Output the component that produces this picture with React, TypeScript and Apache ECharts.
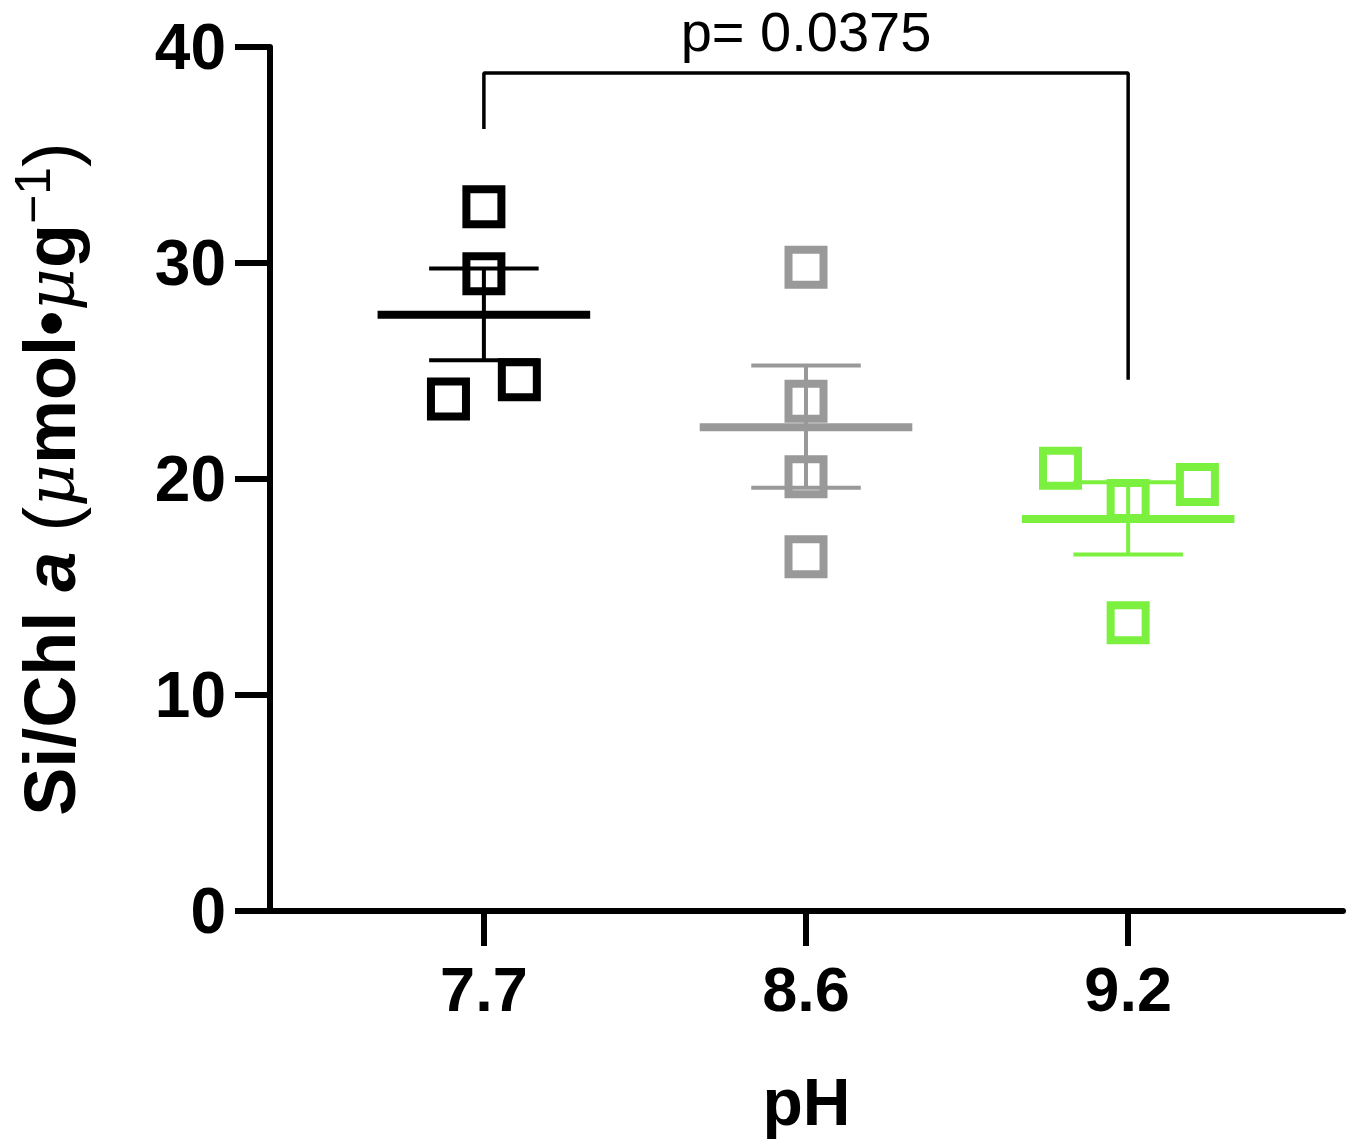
import React, { useEffect, useRef } from "react";
import * as echarts from "echarts";

const categories = ["7.7", "8.6", "9.2"];
const groupColors = ["#000000", "#999999", "#7CF03E"];
// individual replicate values and horizontal jitter (in category units)
const values77 = [32.6, 29.5, 24.6, 23.7];
const jitter77 = [0, 0, 0.11, -0.11];
const values86 = [29.8, 23.6, 20.1, 16.4];
const jitter86 = [0, 0, 0, 0];
const values92 = [20.5, 19.0, 19.75, 13.35];
const jitter92 = [-0.21, 0, 0.215, 0];
// mean and SEM bounds
const means = [27.6, 22.4, 18.15];
const semLow = [25.5, 19.6, 16.5];
const semHigh = [29.75, 25.25, 19.85];
const yTicks = [0, 10, 20, 30, 40];
// significance bracket
const bracketX = [0, 2];
const bracketTop = 38.8;
const bracketFeet = [36.2, 24.6];
const pText = "p= 0.0375";

const FONT = "'Liberation Sans', Arial, Helvetica, sans-serif";

export default function App() {
  const ref = useRef<HTMLDivElement>(null);
  useEffect(() => {
    document.body.style.margin = "0";
    const chart = echarts.init(ref.current!, null, { renderer: "svg" });
    const groups = [
      { v: values77, j: jitter77 },
      { v: values86, j: jitter86 },
      { v: values92, j: jitter92 },
    ];
    const scatterSeries = groups.map((g, gi) => ({
      type: "scatter",
      z: 3,
      symbol: "rect",
      symbolSize: 35,
      data: g.v.map((v, k) => [gi + g.j[k], v]),
      itemStyle: {
        color: "rgba(0,0,0,0)",
        borderColor: groupColors[gi],
        borderWidth: 8,
        opacity: 1,
      },
    }));
    const errSeries = categories.map((_, gi) => ({
      type: "custom",
      z: 2,
      data: [[gi, means[gi], semLow[gi], semHigh[gi]]],
      renderItem: (params: any, api: any) => {
        const x = api.value(0);
        const m = api.value(1);
        const lo = api.value(2);
        const hi = api.value(3);
        const c = groupColors[gi];
        const seg = (x1: number, y1: number, x2: number, y2: number, w: number) => {
          const a = api.coord([x1, y1]);
          const b = api.coord([x2, y2]);
          return {
            type: "line",
            shape: { x1: a[0], y1: a[1], x2: b[0], y2: b[1] },
            style: { stroke: c, lineWidth: w },
          };
        };
        return {
          type: "group",
          children: [
            seg(x - 0.33, m, x + 0.33, m, 8),
            seg(x, lo, x, hi, 4),
            seg(x - 0.17, hi, x + 0.17, hi, 4),
            seg(x - 0.17, lo, x + 0.17, lo, 4),
          ],
        };
      },
    }));
    const bracketSeries = {
      type: "line",
      symbol: "none",
      z: 1,
      lineStyle: { color: "#000", width: 3.5 },
      data: [
        [bracketX[0], bracketFeet[0]],
        [bracketX[0], bracketTop],
        [bracketX[1], bracketTop],
        [bracketX[1], bracketFeet[1]],
      ],
    };
    chart.setOption({
      animation: false,
      grid: { left: 262, right: 7, top: 47, bottom: 237, containLabel: false },
      xAxis: {
        type: "value",
        min: -0.664,
        max: 2.667,
        splitLine: { show: false },
        axisLine: { show: true, onZero: false, lineStyle: { color: "#000", width: 6 } },
        axisTick: { show: true, length: 35, lineStyle: { color: "#000", width: 6 }, customValues: [0, 1, 2] },
        axisLabel: {
          customValues: [0, 1, 2],
          formatter: (v: number) => categories[Math.round(v)] ?? "",
          fontFamily: FONT,
          fontWeight: "bold",
          fontSize: 63,
          color: "#000",
          margin: 46,
        },
        name: "pH",
        nameLocation: "middle",
        nameGap: 158,
        nameTextStyle: { fontFamily: FONT, fontWeight: "bold", fontSize: 66, color: "#000" },
      },
      yAxis: {
        type: "value",
        min: yTicks[0],
        max: yTicks[yTicks.length - 1],
        interval: 10,
        splitLine: { show: false },
        axisLine: { show: true, onZero: false, lineStyle: { color: "#000", width: 6 } },
        axisTick: { show: true, length: 35, lineStyle: { color: "#000", width: 6 } },
        axisLabel: {
          fontFamily: FONT,
          fontWeight: "bold",
          fontSize: 64,
          color: "#000",
          margin: 44,
        },
        name: "{b|Si/Chl }{i|a}{b| }{p|(}{m|μ}{b|mol•}{m|μ}{b|g}{s|−1}{p|)}",
        nameLocation: "middle",
        nameRotate: 90,
        nameGap: 178,
        nameTextStyle: {
          fontFamily: FONT,
          fontWeight: "bold",
          fontSize: 72,
          color: "#000",
          rich: {
            b: { fontFamily: FONT, fontWeight: "bold", fontSize: 72, color: "#000", lineHeight: 84 },
            i: { fontFamily: FONT, fontWeight: "bold", fontStyle: "italic", fontSize: 72, color: "#000", lineHeight: 84 },
            p: { fontFamily: FONT, fontWeight: "normal", fontSize: 74, color: "#000", lineHeight: 84 },
            m: { fontFamily: "'DejaVu Serif', serif", fontStyle: "italic", fontWeight: "normal", fontSize: 66, color: "#000", lineHeight: 84 },
            s: { fontFamily: FONT, fontWeight: "normal", fontSize: 50, color: "#000", verticalAlign: "top", lineHeight: 84 },
          },
        },
      },
      series: [bracketSeries, ...errSeries, ...scatterSeries],
    });
    const px = chart.convertToPixel({ gridIndex: 0 }, [1, 0]) as number[];
    chart.setOption({
      graphic: [
        {
          type: "text",
          x: px[0],
          y: 31,
          style: {
            text: pText,
            fontFamily: FONT,
            fontSize: 56,
            fill: "#000",
            textAlign: "center",
            textVerticalAlign: "middle",
          },
        },
      ],
    });
    return () => chart.dispose();
  }, []);
  return <div ref={ref} style={{ width: 1350, height: 1148 }} />;
}
